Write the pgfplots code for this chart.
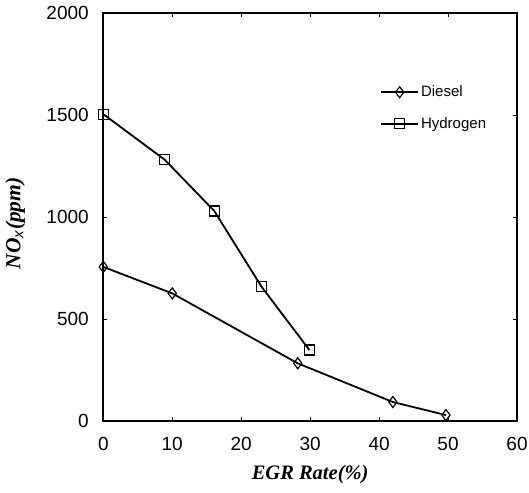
\documentclass[border=0pt]{standalone}
\usepackage{pgfplots}
\pgfplotsset{compat=1.18}
\usepackage{fontspec}
\setmainfont{Liberation Sans}
\newfontfamily\tnr{Liberation Serif}
\begin{document}
\begin{tikzpicture}
\useasboundingbox (-103.3pt,-71pt) rectangle (425.7pt,421pt);
\begin{axis}[
  at={(0pt,0pt)}, anchor=south west,
  scale only axis, width=413.7pt, height=407.7pt,
  xmin=0, xmax=60, ymin=0, ymax=2000,
  xtick={0,10,...,60}, ytick={0,500,...,2000},
  tick align=inside, major tick length=4pt,
  axis line style={line width=2pt},
  tick style={line width=0.6pt, black},
  /pgf/number format/assume math mode=true,
  /pgf/number format/1000 sep={},
  ticklabel style={font=\fontsize{19}{21}\selectfont},
  yticklabel style={xshift=-11pt},
  xticklabel style={yshift=-13pt},
  xlabel={\tnr\bfseries\itshape EGR Rate(\%)},
  ylabel={\tnr\bfseries\itshape NO$_{\mathit{x}}$(ppm)},
  xlabel style={at={(axis description cs:0.5,-0.132)}, anchor=center, font=\fontsize{20.5}{22}\selectfont},
  ylabel style={at={(axis description cs:-0.213,0.485)}, anchor=center, font=\fontsize{21.5}{23}\selectfont},
  legend style={at={(axis description cs:0.669,0.822)}, anchor=north west, draw=none, fill=none,
    font=\fontsize{15}{17}\selectfont, row sep=19pt, inner sep=0pt,
    nodes={inner xsep=2pt, inner ysep=0pt}},
  legend cell align=left,
  legend image code/.code={
    \draw[#1, mark repeat=2, mark phase=2] plot coordinates {(0pt,0pt) (18.5pt,0pt) (37pt,0pt)};
  },
]
\addplot[black, line width=1.8pt, mark=diamond, mark size=5.5pt, mark options={line width=1.2pt, fill=white, solid}]
coordinates {(0,756) (10,626) (28.2,283) (42,93) (49.7,29)};
\addlegendentry{Diesel}
\addplot[black, line width=1.8pt, mark=square, mark size=5pt, mark options={line width=1.2pt, fill=white, solid}]
coordinates {(0,1505) (8.9,1282) (16.1,1030) (22.9,661) (29.9,348)};
\addlegendentry{Hydrogen}
\end{axis}
\end{tikzpicture}
\end{document}
